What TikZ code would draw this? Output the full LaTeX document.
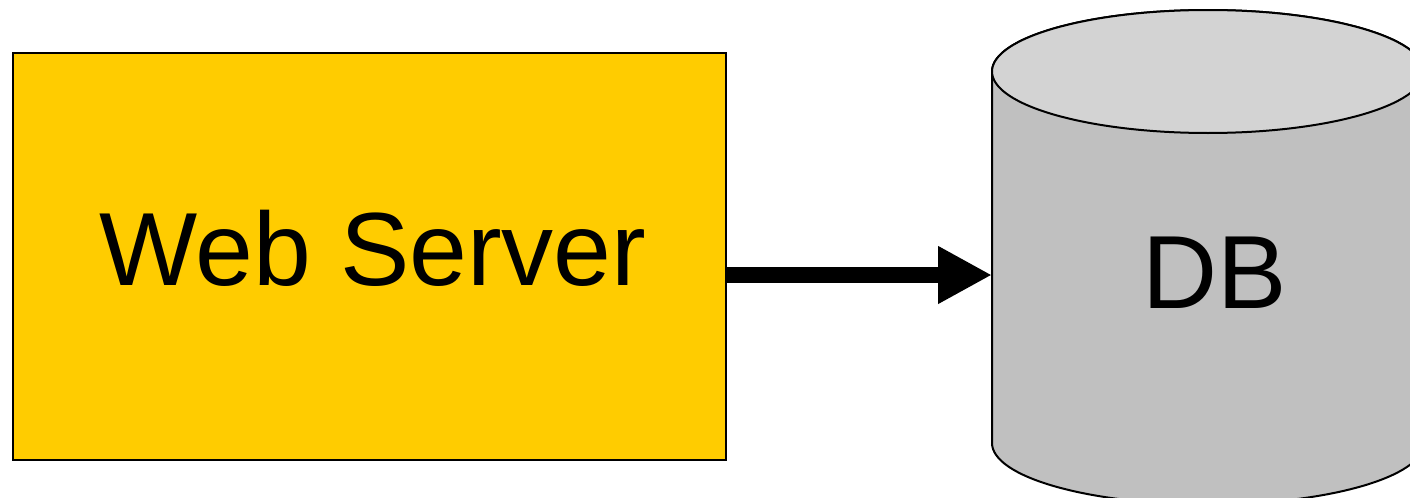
\documentclass[tikz,border=0pt]{standalone}
\usepackage{fontspec}
\setmainfont{Liberation Sans}
\usetikzlibrary{arrows.meta}
\definecolor{serveryellow}{HTML}{FFCC00}
\definecolor{dbbody}{HTML}{C0C0C0}
\definecolor{dbtop}{HTML}{D3D3D3}
\begin{document}
\begin{tikzpicture}[x=0.5pt,y=-0.5pt,
  serverbox/.style={draw=black,line width=1pt,fill=serveryellow,
    minimum width=356.5pt,minimum height=203.5pt,inner sep=0pt},
  bigtext/.style={font=\fontsize{52}{60}\selectfont,inner sep=0pt,anchor=base},
  outline/.style={draw=black,line width=1pt},
  flow/.style={line width=8pt,-{Triangle[length=27pt,width=27pt]}}]
  \clip (0,0) rectangle (1410,498);

  % web server box
  \node[serverbox] (ws) at (369.5,256.5) {};
  \node[bigtext] (wstext) at (373,285) {Web Server};

  % database cylinder: body, then top face
  \path[fill=dbbody,outline] (992,71.5) -- (992,443)
    arc[start angle=180,end angle=0,x radius=216,y radius=61.5]
    -- (1424,71.5)
    arc[start angle=0,end angle=-180,x radius=216,y radius=61.5] -- cycle;
  \path[fill=dbtop,outline] (1208,71.5) ellipse[x radius=216,y radius=61.5];
  \node[bigtext] (dbtext) at (1215,308) {DB};
  \coordinate (dbin) at (992,275);

  % connector
  \draw[flow] (ws.east |- dbin) -- (dbin);
\end{tikzpicture}
\end{document}
